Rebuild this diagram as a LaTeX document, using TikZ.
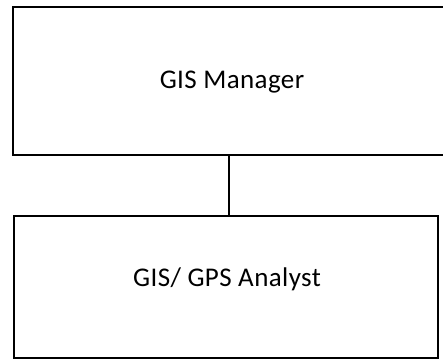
\documentclass[tikz,border=0pt]{standalone}
\usepackage{fontspec}
\setmainfont{Carlito}[LetterSpace=1.5]
\begin{document}
\begin{tikzpicture}[x=1pt,y=1pt,
  orgbox/.style={draw=black, line width=2pt, rectangle, inner sep=0pt},
  boxtext/.style={anchor=base, inner sep=0pt, font=\fontsize{27}{31}\selectfont},
  link/.style={draw=black, line width=2pt}]
\useasboundingbox (0,0) rectangle (443,-359);
\node[orgbox, minimum width=432.5pt, minimum height=148pt] (mgr) at (228.75,-81) {};
\node[orgbox, minimum width=424.5pt, minimum height=141.5pt] (ana) at (225.75,-286.75) {};
\node[boxtext] (mgrtext) at (232,-88.3) {GIS Manager};
\node[boxtext] (anatext) at (227,-286) {GIS/ GPS Analyst};
\draw[link] (mgr.south) -- (mgr.south |- ana.north);
\end{tikzpicture}
\end{document}
